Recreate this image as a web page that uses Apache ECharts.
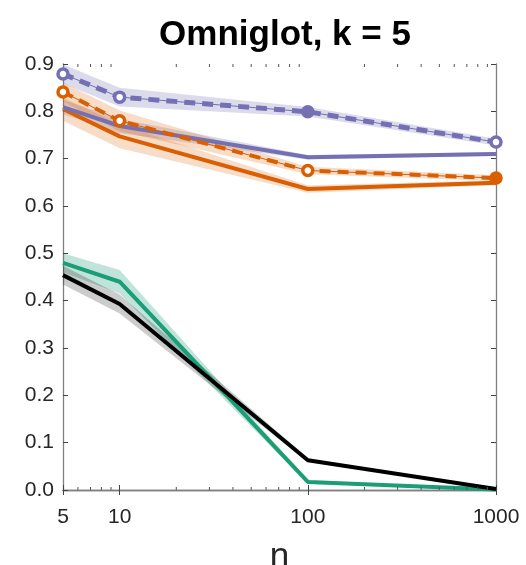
<!DOCTYPE html>
<html>
<head>
<meta charset="utf-8">
<script src="https://cdn.jsdelivr.net/npm/echarts@6/dist/echarts.min.js"></script>
<style>
  html, body { margin: 0; padding: 0; background: #fff; }
  #chart { width: 526px; height: 565px; }
</style>
</head>
<body>
<div id="chart"></div>
<script>
// Support-set sizes (log x axis)
const nValues = [5, 10, 100, 1000];
const yTicks = [0, 0.1, 0.2, 0.3, 0.4, 0.5, 0.6, 0.7, 0.8, 0.9];
const minorTickN = [6, 7, 8, 9, 20, 30, 40, 50, 60, 70, 80, 90, 200, 300, 400, 500, 600, 700, 800, 900];

// Mean curves and half-widths of the shaded bands
const purpleDashed = [0.879, 0.830, 0.799, 0.735];
const purpleDashedErr = [0.020, 0.020, 0.010, 0.007];
const purpleSolid = [0.809, 0.769, 0.703, 0.710];
const purpleSolidErr = [0.015, 0.015, 0.005, 0.004];
const orangeDashed = [0.841, 0.780, 0.675, 0.659];
const orangeDashedErr = [0.020, 0.022, 0.008, 0.006];
const orangeSolid = [0.805, 0.747, 0.636, 0.649];
const orangeSolidErr = [0.025, 0.025, 0.008, 0.005];
const green = [0.480, 0.440, 0.017, 0.001];
const greenErr = [0.020, 0.025, 0.004, 0.001];
const black = [0.454, 0.393, 0.063, 0.002];
const blackErr = [0.020, 0.020, 0.004, 0.001];

// Markers on the dashed curves: which points are drawn filled
const purpleFilled = [false, false, true, false];
const orangeFilled = [false, false, false, true];

const PURPLE = '#7570b3';
const ORANGE = '#d95f02';
const GREEN = '#1b9e77';
const BLACK = '#000000';

function pairs(ys) { return nValues.map((n, i) => [n, ys[i]]); }

function band(name, mean, err, color, opacity) {
  return {
    type: 'custom',
    name: name,
    silent: true,
    z: 1,
    data: [0],
    renderItem: function (params, api) {
      const upper = nValues.map((n, i) => api.coord([n, mean[i] + err[i]]));
      const lower = nValues.map((n, i) => api.coord([n, Math.max(0, mean[i] - err[i])])).reverse();
      return {
        type: 'polygon',
        shape: { points: upper.concat(lower) },
        style: { fill: color, opacity: opacity, stroke: null }
      };
    }
  };
}

function solid(name, ys, color) {
  return {
    type: 'line', name: name, data: pairs(ys), z: 3,
    symbol: 'none', silent: true,
    lineStyle: { color: color, width: 4 }
  };
}

function dashed(name, ys, color, filled, width) {
  return [
    {
      type: 'line', name: name + '-thin', data: pairs(ys), z: 3,
      symbol: 'none', silent: true,
      lineStyle: { color: color, width: 1 }
    },
    {
      type: 'line', name: name, z: 4, silent: true,
      data: nValues.map((n, i) => ({
        value: [n, ys[i]],
        itemStyle: { color: filled[i] ? color : '#ffffff', borderColor: color, borderWidth: 3.5 }
      })),
      symbol: 'circle', symbolSize: 10, showAllSymbol: true,
      lineStyle: { color: color, width: width, type: [11, 7] }
    }
  ];
}

// Minor log ticks drawn on the bottom and top edges of the plot box
const minorTicks = {
  type: 'custom', silent: true, z: 5,
  data: minorTickN,
  renderItem: function (params, api) {
    const n = api.value(0);
    const p0 = api.coord([n, 0]);
    const p1 = api.coord([n, 0.9]);
    return {
      type: 'group',
      children: [
        { type: 'line', shape: { x1: p0[0], y1: p0[1], x2: p0[0], y2: p0[1] - 3 }, style: { stroke: '#555', lineWidth: 1 } },
        { type: 'line', shape: { x1: p1[0], y1: p1[1], x2: p1[0], y2: p1[1] + 3 }, style: { stroke: '#555', lineWidth: 1 } }
      ]
    };
  },
  encode: { x: 0, y: 1 }
};

const chart = echarts.init(document.getElementById('chart'), null, { renderer: 'canvas' });

const fontFam = 'Helvetica, "Liberation Sans", Arial, sans-serif';
const axisColor = '#7f7f7f';

chart.setOption({
  animation: false,
  backgroundColor: '#ffffff',
  title: {
    text: 'Omniglot, k = 5',
    left: 280, top: 13, textAlign: 'center',
    textStyle: { fontFamily: fontFam, fontSize: 35, fontWeight: 'bold', color: '#000' }
  },
  grid: { left: 63, right: 30, top: 64, bottom: 75, containLabel: false, outerBoundsMode: 'none' },
  xAxis: [
    {
      type: 'log', logBase: 10, min: 5, max: 1000,
      name: 'n', nameLocation: 'middle', nameGap: 50,
      nameTextStyle: { fontFamily: fontFam, fontSize: 35, color: '#262626' },
      axisLine: { show: true, lineStyle: { color: axisColor, width: 1.3 } },
      axisTick: { show: true, inside: true, length: 5, lineStyle: { color: '#444' } },
      axisLabel: {
        fontFamily: fontFam, fontSize: 21, color: '#262626', margin: 17,
        formatter: v => String(Math.round(v))
      },
      splitLine: { show: false }
    },
    {
      type: 'log', logBase: 10, min: 5, max: 1000, position: 'top',
      axisLine: { show: true, lineStyle: { color: axisColor, width: 1.3 } },
      axisTick: { show: true, inside: true, length: 5, lineStyle: { color: '#444' } },
      axisLabel: { show: false },
      splitLine: { show: false }
    }
  ],
  yAxis: [
    {
      type: 'value', min: yTicks[0], max: yTicks[yTicks.length - 1], interval: 0.1,
      axisLine: { show: true, lineStyle: { color: axisColor, width: 1.3 } },
      axisTick: { show: true, inside: true, length: 5, lineStyle: { color: '#444' } },
      axisLabel: {
        fontFamily: fontFam, fontSize: 21, color: '#262626', margin: 9,
        formatter: v => v.toFixed(1)
      },
      splitLine: { show: false }
    },
    {
      type: 'value', min: yTicks[0], max: yTicks[yTicks.length - 1], interval: 0.1, position: 'right',
      axisLine: { show: true, lineStyle: { color: axisColor, width: 1.3 } },
      axisTick: { show: true, inside: true, length: 5, lineStyle: { color: '#444' } },
      axisLabel: { show: false },
      splitLine: { show: false }
    }
  ],
  series: [
    band('purpleDashedBand', purpleDashed, purpleDashedErr, PURPLE, 0.25),
    band('purpleSolidBand', purpleSolid, purpleSolidErr, PURPLE, 0.25),
    band('orangeDashedBand', orangeDashed, orangeDashedErr, ORANGE, 0.22),
    band('orangeSolidBand', orangeSolid, orangeSolidErr, ORANGE, 0.22),
    band('greenBand', green, greenErr, GREEN, 0.28),
    band('blackBand', black, blackErr, BLACK, 0.2),
    solid('green', green, GREEN),
    solid('black', black, BLACK),
    solid('orangeSolid', orangeSolid, ORANGE),
    solid('purpleSolid', purpleSolid, PURPLE),
    ...dashed('orangeDashed', orangeDashed, ORANGE, orangeFilled, 4),
    ...dashed('purpleDashed', purpleDashed, PURPLE, purpleFilled, 5),
    minorTicks
  ]
});
</script>
</body>
</html>
